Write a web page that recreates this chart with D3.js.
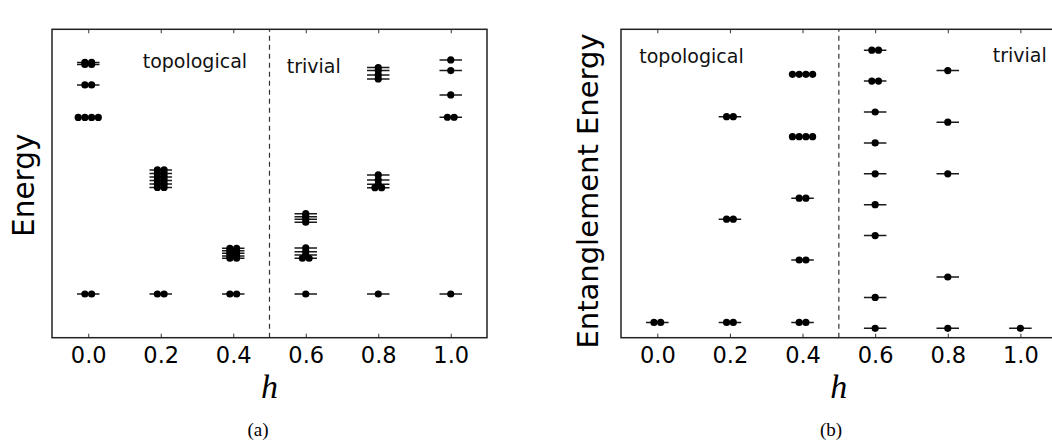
<!DOCTYPE html>
<html><head><meta charset="utf-8">
<script src="https://cdn.jsdelivr.net/npm/d3@7"></script>
<style>html,body{margin:0;padding:0;background:#fff;overflow:hidden}</style>
</head><body>
<svg id="c" width="1052" height="442"></svg>
<script>
// ---------- data ----------
const hValues = [0.0, 0.2, 0.4, 0.6, 0.8, 1.0];
const tickLabels = ["0.0", "0.2", "0.4", "0.6", "0.8", "1.0"];

// (a) energy spectrum: levels per h (arbitrary units) and number of degenerate states drawn
const energyLevels = [
  [4.63, 4.59, 4.18, 3.53, 0.0],
  [2.48, 2.41, 2.34, 2.27, 2.20, 2.13, 0.0],
  [0.914, 0.866, 0.814, 0.76, 0.714, 0.0],
  [1.606, 1.546, 1.494, 1.434, 0.92, 0.846, 0.78, 0.714, 0.0],
  [4.526, 4.466, 4.38, 4.30, 2.38, 2.28, 2.194, 2.126, 0.0],
  [4.68, 4.466, 3.98, 3.534, 0.0]
];
const energyDegeneracy = [
  [2, 2, 2, 4, 2],
  [2, 2, 2, 2, 2, 2, 2],
  [2, 2, 2, 2, 2, 2],
  [1, 1, 1, 1, 1, 1, 1, 2, 1],
  [1, 1, 1, 1, 1, 1, 1, 2, 1],
  [1, 1, 1, 2, 1]
];

// (b) entanglement spectrum
const entLevels = [
  [0.19],
  [0.19, 3.53, 6.85],
  [0.19, 2.21, 4.21, 6.2, 8.22],
  [0, 1, 3, 4, 5, 6, 7, 8, 9],
  [0, 1.66, 5, 6.67, 8.34],
  [0]
];
const entDegeneracy = [
  [2],
  [2, 2, 2],
  [2, 2, 2, 4, 4],
  [1, 1, 1, 1, 1, 1, 1, 2, 2],
  [1, 1, 1, 1, 1],
  [1]
];

const xDomain = [-0.1, 1.1];
const energyDomain = [-0.874, 5.292];
const entDomain = [-0.304, 9.676];
const transition = 0.5;

// ---------- drawing ----------
const svg = d3.select("#c");
const FONT = "DejaVu Sans, sans-serif";

function panel(cfg) {
  const x = d3.scaleLinear().domain(xDomain).range([cfg.left, cfg.right]);
  const y = d3.scaleLinear().domain(cfg.yDomain).range([337.7, 29.3]);
  const g = svg.append("g");
  const clipId = "clip" + cfg.id;
  svg.append("clipPath").attr("id", clipId).append("rect")
    .attr("x", cfg.left).attr("y", 29.3).attr("width", cfg.right - cfg.left).attr("height", 337.7 - 29.3);

  // transition line
  g.append("line")
    .attr("x1", x(transition)).attr("x2", x(transition))
    .attr("y1", y.range()[0]).attr("y2", y.range()[1])
    .attr("stroke", "#333").attr("stroke-width", 1.2).attr("stroke-dasharray", "5,4");

  const marks = g.append("g").attr("clip-path", `url(#${clipId})`);
  hValues.forEach((h, i) => {
    cfg.levels[i].forEach((e, j) => {
      marks.append("line")
        .attr("x1", x(h - 0.031)).attr("x2", x(h + 0.031))
        .attr("y1", y(e)).attr("y2", y(e))
        .attr("stroke", "#1a1a1a").attr("stroke-width", 1.5);
    });
  });
  hValues.forEach((h, i) => {
    cfg.levels[i].forEach((e, j) => {
      const n = cfg.deg[i][j];
      d3.range(n).forEach(k => {
        marks.append("circle")
          .attr("cx", x(h + (k - (n - 1) / 2) * 0.0185))
          .attr("cy", y(e)).attr("r", 3.6).attr("fill", "#000");
      });
    });
  });

  // axes (ticks inward, top & bottom)
  const bottom = d3.axisBottom(x).tickValues(hValues).tickFormat((d, i) => tickLabels[i])
    .tickSizeInner(-4).tickSizeOuter(0).tickPadding(9);
  const ab = g.append("g").attr("transform", `translate(0,${y.range()[0]})`).call(bottom);
  ab.select(".domain").remove();
  ab.selectAll(".tick line").attr("stroke", "#333");
  ab.selectAll("text").attr("font-family", FONT).attr("font-size", 22.5).attr("fill", "#000");
  const top = d3.axisTop(x).tickValues(hValues).tickFormat("").tickSizeInner(-4).tickSizeOuter(0);
  const at = g.append("g").attr("transform", `translate(0,${y.range()[1]})`).call(top);
  at.select(".domain").remove();
  at.selectAll(".tick line").attr("stroke", "#333");

  // frame
  g.append("rect").attr("x", cfg.left).attr("y", 29.3)
    .attr("width", cfg.right - cfg.left).attr("height", 337.7 - 29.3)
    .attr("fill", "none").attr("stroke", "#222").attr("stroke-width", 1.5);

  // phase labels
  g.append("text").attr("x", cfg.topoX).attr("y", cfg.topoY).text("topological")
    .attr("font-family", FONT).attr("font-size", 19).attr("fill", "#111");
  g.append("text").attr("x", cfg.trivX).attr("y", cfg.trivY).text("trivial")
    .attr("font-family", FONT).attr("font-size", 19).attr("fill", "#111");

  // y label
  g.append("text").attr("transform", `translate(${cfg.ylabX},${cfg.ylabY}) rotate(-90)`)
    .attr("text-anchor", "middle").text(cfg.ylabel)
    .attr("font-family", FONT).attr("font-size", cfg.ylabSize).attr("fill", "#000");

  // x label
  g.append("text").attr("x", x(0.5)).attr("y", 398).attr("text-anchor", "middle")
    .text("h").attr("font-family", "Liberation Serif, serif").attr("font-style", "italic")
    .attr("font-size", 34).attr("fill", "#000");

  // caption
  g.append("text").attr("x", cfg.capX).attr("y", 436).attr("text-anchor", "middle")
    .text(cfg.caption).attr("font-family", "Liberation Serif, serif")
    .attr("font-size", 19).attr("fill", "#000");
}

panel({id: "a", left: 52, right: 487, yDomain: energyDomain,
  levels: energyLevels, deg: energyDegeneracy,
  topoX: 142.7, topoY: 68, trivX: 286.7, trivY: 73,
  ylabel: "Energy", ylabX: 33.5, ylabY: 185.3, ylabSize: 29.5, capX: 258, caption: "(a)"});

panel({id: "b", left: 621, right: 1056.7, yDomain: entDomain,
  levels: entLevels, deg: entDegeneracy,
  topoX: 639.3, topoY: 62.7, trivX: 992.7, trivY: 62,
  ylabel: "Entanglement Energy", ylabX: 597.5, ylabY: 191, ylabSize: 29, capX: 831, caption: "(b)"});
</script>
</body></html>
